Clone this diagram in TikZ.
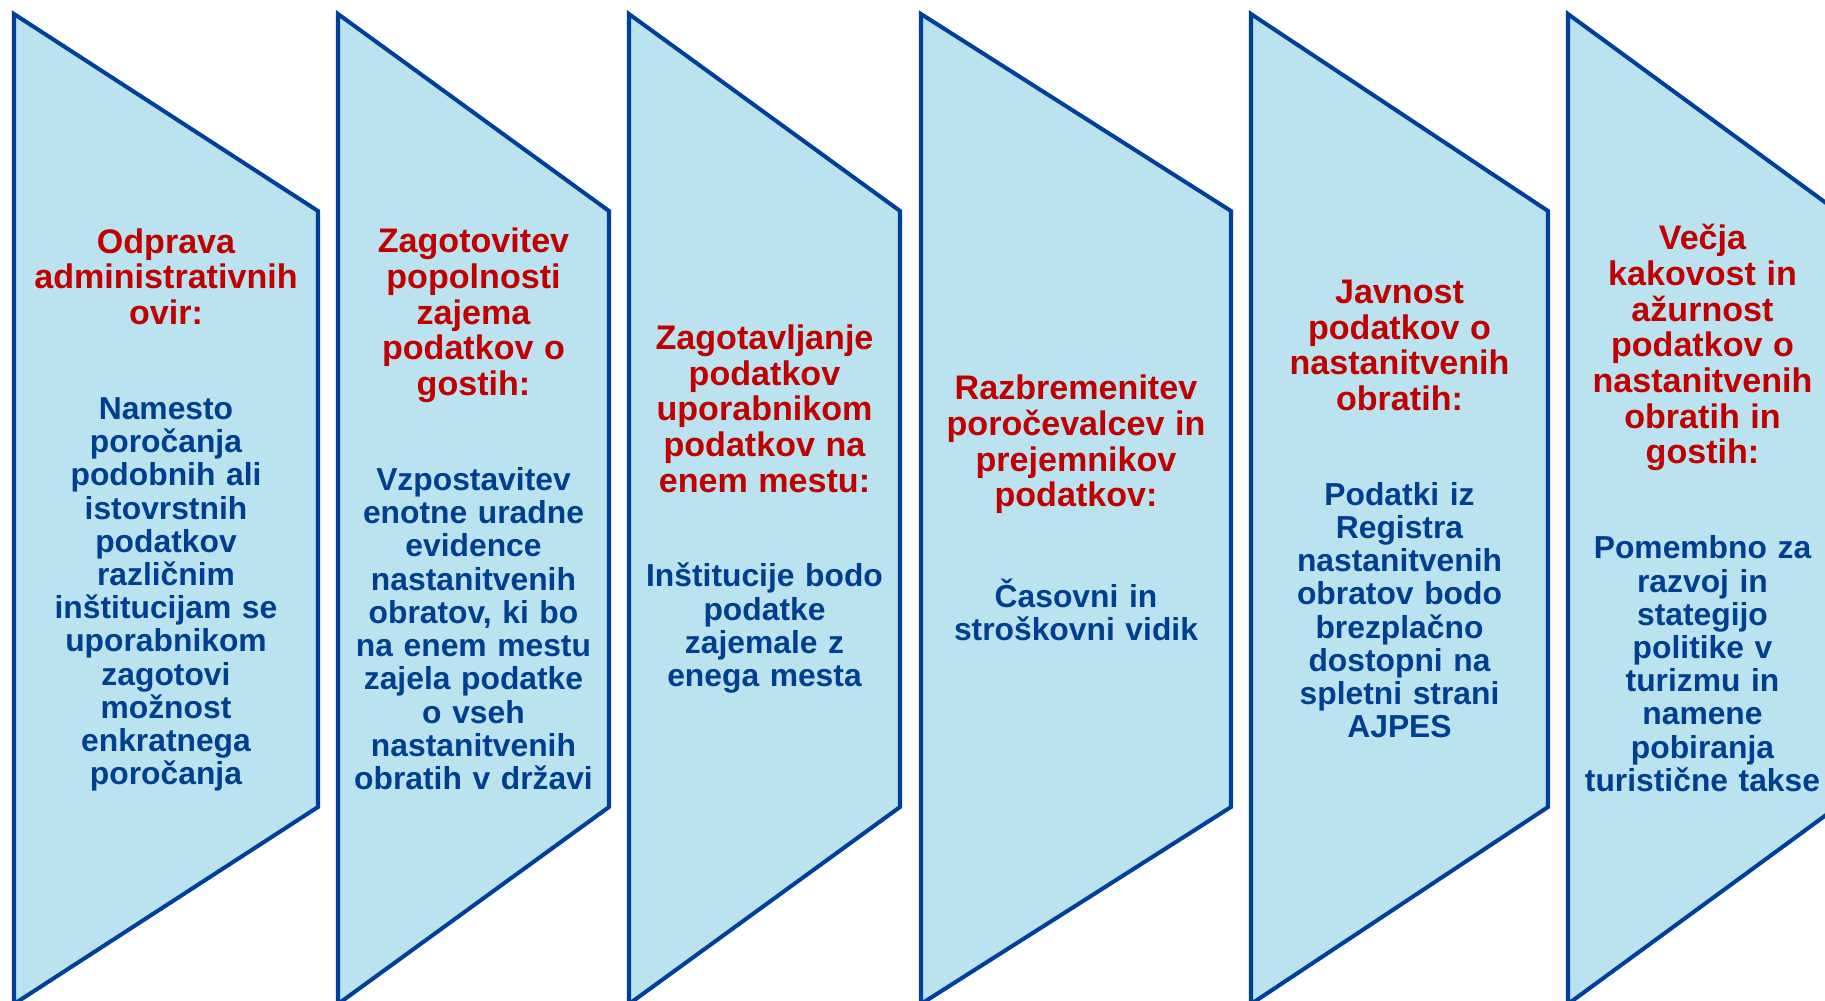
\documentclass[tikz,border=0pt]{standalone}
\usepackage{fontspec}
\setmainfont{Liberation Sans}
\usetikzlibrary{positioning}
\definecolor{PanelFill}{HTML}{BBE2EF}
\definecolor{PanelLine}{HTML}{00409A}
\definecolor{TitleRed}{HTML}{C00000}
\definecolor{BodyBlue}{HTML}{003F8F}
\lineskiplimit=-20pt
% red heading of a panel, then the gap before the blue text
\newcommand{\paneltitle}[1]{{\color{TitleRed}\fontsize{9.7}{10.15}\selectfont #1\par}\vspace{17.55pt}}

\begin{document}
\begin{tikzpicture}[
    x=0.1mm, y=-0.1mm,
    % Panels
    panel/.style={
            draw=PanelLine,
            fill=PanelFill,
            line width=1.15pt,
            line join=miter
        },
    % Text inside the panels
    paneltext/.style={
            inner sep=0pt,
            text width=29mm,
            align=center,
            font=\bfseries\fontsize{9.05}{9.45}\selectfont,
            text=BodyBlue
        }
    ]

    \useasboundingbox (0,0) rectangle (1825,1001);
    \clip (0,0) rectangle (1825,1001);

    % ========== PANELS ==========
    \draw[panel] (14,14) -- (318,211) -- (318,807) -- (14,1004) -- cycle;
    \draw[panel] (338,14) -- (609,211) -- (609,807) -- (338,1004) -- cycle;
    \draw[panel] (629,14) -- (900,211) -- (900,807) -- (629,1004) -- cycle;
    \draw[panel] (921,14) -- (1231,211) -- (1231,807) -- (921,1004) -- cycle;
    \draw[panel] (1251,14) -- (1548,211) -- (1548,807) -- (1251,1004) -- cycle;
    \draw[panel] (1568,14) -- (1837,211) -- (1837,807) -- (1568,1004) -- cycle;

    % ========== TEXTS ==========
    \node[paneltext] (odprava) at (166,510) {\paneltitle{Odprava\\administrativnih\\ovir:}Namesto\\poročanja\\podobnih ali\\istovrstnih\\podatkov\\različnim\\inštitucijam se\\uporabnikom\\zagotovi\\možnost\\enkratnega\\poročanja};

    \node[paneltext] (popolnost) at (473.5,509) {\paneltitle{Zagotovitev\\popolnosti\\zajema\\podatkov o\\gostih:}Vzpostavitev\\enotne uradne\\evidence\\nastanitvenih\\obratov, ki bo\\na enem mestu\\zajela podatke\\o vseh\\nastanitvenih\\obratih v državi};

    \node[paneltext] (enomesto) at (764.5,509) {\paneltitle{Zagotavljanje\\podatkov\\uporabnikom\\podatkov na\\enem mestu:}Inštitucije bodo\\podatke\\zajemale z\\enega mesta};

    \node[paneltext] (razbremenitev) at (1076,508) {\paneltitle{Razbremenitev\\poročevalcev in\\prejemnikov\\podatkov:}Časovni in\\stroškovni vidik};

    \node[paneltext] (javnost) at (1399.5,509) {\paneltitle{Javnost\\podatkov o\\nastanitvenih\\obratih:}Podatki iz\\Registra\\nastanitvenih\\obratov bodo\\brezplačno\\dostopni na\\spletni strani\\AJPES};

    \node[paneltext] (kakovost) at (1702.5,508) {\paneltitle{Večja\\kakovost in\\ažurnost\\podatkov o\\nastanitvenih\\obratih in\\gostih:}Pomembno za\\razvoj in\\stategijo\\politike v\\turizmu in\\namene\\pobiranja\\turistične takse};

\end{tikzpicture}
\end{document}
